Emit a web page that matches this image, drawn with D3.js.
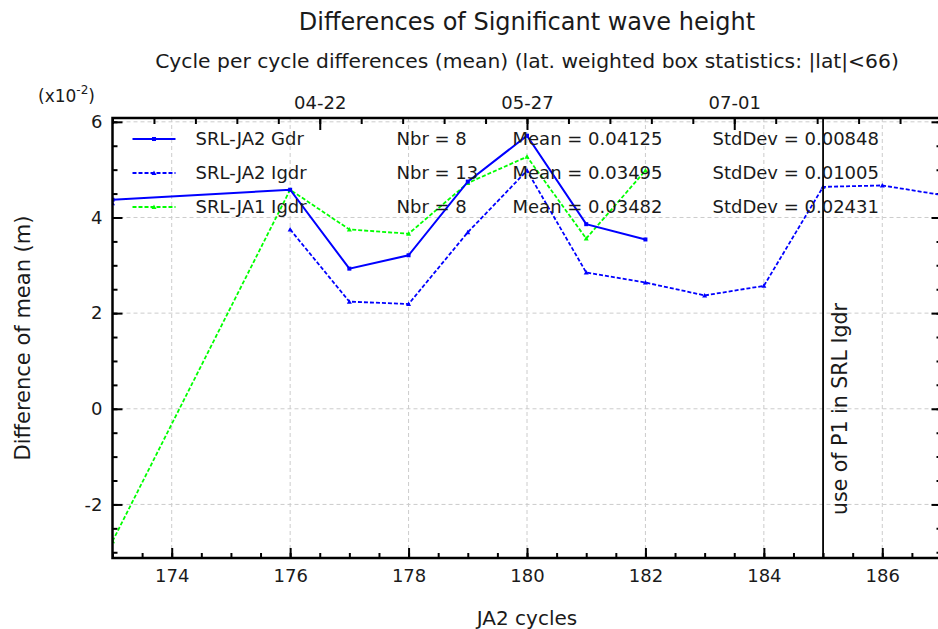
<!DOCTYPE html>
<html>
<head>
<meta charset="utf-8">
<script src="https://cdn.jsdelivr.net/npm/d3@7"></script>
<style>
  body { margin: 0; background: white; }
  svg { font-family: 'DejaVu Sans', sans-serif; }
</style>
</head>
<body>
<div id="chart"></div>
<script>
// cycles and values (x10^-2 m)
var gdr_cycles = [173, 176, 177, 178, 179, 180, 181, 182];
var gdr_values = [4.37, 4.58, 2.93, 3.21, 4.75, 5.71, 3.86, 3.54];

var igdr_cycles = [173, 174, 175, 176, 177, 178, 179, 180, 181, 182, 183, 184, 185, 186, 187];
var igdr_values = [4.30, null, null, 3.75, 2.24, 2.19, 3.69, 4.98, 2.85, 2.64, 2.37, 2.57, 4.64, 4.67, 4.47];

var ja1_cycles = [173, 176, 177, 178, 179, 180, 181, 182];
var ja1_values = [-2.77, 4.58, 3.75, 3.66, 4.72, 5.27, 3.56, 4.98];

var series_names = ['SRL-JA2 Gdr', 'SRL-JA2 Igdr', 'SRL-JA1 Igdr'];
var series_nbr = ['8', '13', '8'];
var series_mean = ['0.04125', '0.03495', '0.03482'];
var series_std = ['0.00848', '0.01005', '0.02431'];

var x_ticks = [174, 176, 178, 180, 182, 184, 186];
var y_ticks = [-2, 0, 2, 4, 6];
var top_tick_cycles = [176.5, 180, 183.5];
var top_tick_labels = ['04-22', '05-27', '07-01'];
var event_cycle = 185;
var event_label = 'use of P1 in SRL Igdr';

var width = 938, height = 629;
var margin = {top: 118, right: -3.5, bottom: 71, left: 112.5};
var plot_w = width - margin.left - margin.right;
var plot_h = height - margin.top - margin.bottom;

var svg = d3.select('#chart').append('svg')
    .attr('width', width)
    .attr('height', height);

var x = d3.scaleLinear().domain([173, 187]).range([0, plot_w]);
var y = d3.scaleLinear().domain([-3.12, 6.08]).range([plot_h, 0]);

var g = svg.append('g')
    .attr('transform', 'translate(' + margin.left + ',' + margin.top + ')');

svg.append('defs').append('clipPath').attr('id', 'clip')
    .append('rect').attr('width', plot_w).attr('height', plot_h);

// grid
g.selectAll('.vgrid').data(x_ticks).enter().append('line')
    .attr('x1', function(d){ return x(d); }).attr('x2', function(d){ return x(d); })
    .attr('y1', 0).attr('y2', plot_h)
    .attr('stroke', '#cccccc').attr('stroke-width', 1).attr('stroke-dasharray', '4,3');
g.selectAll('.hgrid').data(y_ticks).enter().append('line')
    .attr('y1', function(d){ return y(d); }).attr('y2', function(d){ return y(d); })
    .attr('x1', 0).attr('x2', plot_w)
    .attr('stroke', '#cccccc').attr('stroke-width', 1).attr('stroke-dasharray', '4,3');

// minor tick values
var x_minor = d3.range(173, 187.01, 0.5);
var y_minor = d3.range(-3, 6.01, 0.5);
var top_minor = [];
for (var t = 180; t >= 173; t -= 0.7) top_minor.push(t);
for (var t2 = 180.7; t2 <= 187; t2 += 0.7) top_minor.push(t2);

function style_axis(sel){
  sel.attr('font-family', null);
  sel.select('.domain').remove();
  sel.selectAll('.tick line').attr('stroke', 'black').attr('stroke-width', 2);
  sel.selectAll('.tick text').attr('fill', '#1a1a1a').style('font-size', '18px');
}
function plain(d){ return String(d); }

g.append('g').attr('transform', 'translate(0,' + plot_h + ')')
    .call(d3.axisBottom(x).tickValues(x_minor).tickSize(-5).tickFormat(''))
    .call(style_axis);
g.append('g').attr('transform', 'translate(0,' + plot_h + ')')
    .call(d3.axisBottom(x).tickValues(x_ticks).tickSize(-10).tickPadding(11).tickFormat(plain))
    .call(style_axis);
g.append('g')
    .call(d3.axisLeft(y).tickValues(y_minor).tickSize(-5).tickFormat(''))
    .call(style_axis);
g.append('g')
    .call(d3.axisLeft(y).tickValues(y_ticks).tickSize(-10).tickPadding(10).tickFormat(plain))
    .call(style_axis);
g.append('g').attr('transform', 'translate(' + plot_w + ',0)')
    .call(d3.axisRight(y).tickValues(y_minor).tickSize(-5).tickFormat(''))
    .call(style_axis);
g.append('g').attr('transform', 'translate(' + plot_w + ',0)')
    .call(d3.axisRight(y).tickValues(y_ticks).tickSize(-10).tickFormat(''))
    .call(style_axis);
g.append('g')
    .call(d3.axisTop(x).tickValues(top_minor).tickSize(-6).tickFormat(''))
    .call(style_axis);
g.append('g')
    .call(d3.axisTop(x).tickValues(top_tick_cycles).tickSize(-12).tickPadding(9)
      .tickFormat(function(d, i){ return top_tick_labels[i]; }))
    .call(style_axis);

// series
var plot = g.append('g').attr('clip-path', 'url(#clip)');
function to_points(cs, vs){
  return cs.map(function(c, i){ return {c: c, v: vs[i]}; });
}
var series = [
  {pts: to_points(gdr_cycles, gdr_values), color: '#0000ff', dash: null, marker: 'square'},
  {pts: to_points(igdr_cycles, igdr_values), color: '#0000ff', dash: '4,2', marker: 'tri'},
  {pts: to_points(ja1_cycles, ja1_values), color: '#00ff00', dash: '4,2', marker: 'tri'}
];
var line = d3.line()
    .defined(function(d){ return d.v !== null; })
    .x(function(d){ return x(d.c); })
    .y(function(d){ return y(d.v); });

function draw_marker(sel, kind, color){
  if (kind === 'square') {
    sel.append('rect').attr('x', -2).attr('y', -2).attr('width', 4).attr('height', 4).attr('fill', color);
  } else {
    sel.append('path').attr('d', 'M0,-2.5L2.5,2L-2.5,2Z').attr('fill', color);
  }
}

// draw in reverse so Gdr is on top
series.slice().reverse().forEach(function(s){
  plot.append('path')
      .datum(s.pts)
      .attr('d', line)
      .attr('fill', 'none')
      .attr('stroke', s.color)
      .attr('stroke-width', s.dash ? 1.8 : 2)
      .attr('stroke-dasharray', s.dash);
  plot.selectAll(null).data(s.pts.filter(function(d){ return d.v !== null; }))
      .enter().append('g')
      .attr('transform', function(d){ return 'translate(' + x(d.c) + ',' + y(d.v) + ')'; })
      .each(function(){ draw_marker(d3.select(this), s.marker, s.color); });
});

// event line
g.append('line')
    .attr('x1', x(event_cycle)).attr('x2', x(event_cycle))
    .attr('y1', 0).attr('y2', plot_h)
    .attr('stroke', 'black').attr('stroke-width', 1.8);
g.append('text')
    .attr('transform', 'translate(' + (x(event_cycle) + 24) + ',' + (plot_h - 43) + ') rotate(-90)')
    .attr('fill', '#1a1a1a')
    .style('font-size', '20.5px')
    .text(event_label);

// legend
var legend = g.append('g');
series.forEach(function(s, i){
  var ly = 21 + 34 * i;
  legend.append('line')
      .attr('x1', 20).attr('x2', 63).attr('y1', ly).attr('y2', ly)
      .attr('stroke', s.color).attr('stroke-width', s.dash ? 1.8 : 2)
      .attr('stroke-dasharray', s.dash);
  var m = legend.append('g').attr('transform', 'translate(41.5,' + ly + ')');
  draw_marker(m, s.marker, s.color);
  var cols = [[83, series_names[i]], [284, 'Nbr = ' + series_nbr[i]],
              [400, 'Mean = ' + series_mean[i]], [600, 'StdDev = ' + series_std[i]]];
  cols.forEach(function(c){
    legend.append('text')
        .attr('x', c[0]).attr('y', ly + 6)
        .attr('fill', '#1a1a1a')
        .style('font-size', '18px')
        .text(c[1]);
  });
});

// titles and labels
svg.append('text')
    .attr('x', 527).attr('y', 30)
    .attr('text-anchor', 'middle')
    .attr('fill', '#1a1a1a')
    .style('font-size', '24px')
    .text('Differences of Significant wave height');
svg.append('text')
    .attr('x', 527).attr('y', 68)
    .attr('text-anchor', 'middle')
    .attr('fill', '#1a1a1a')
    .style('font-size', '20.3px')
    .text('Cycle per cycle differences (mean) (lat. weighted box statistics: |lat|<66)');
var sc = svg.append('text')
    .attr('x', 38).attr('y', 102)
    .attr('fill', '#1a1a1a')
    .style('font-size', '17px');
sc.append('tspan').text('(x10');
sc.append('tspan').attr('dy', -8).style('font-size', '12px').text('-2');
sc.append('tspan').attr('dy', 8).text(')');

svg.append('text')
    .attr('transform', 'translate(30,' + (margin.top + plot_h / 2) + ') rotate(-90)')
    .attr('text-anchor', 'middle')
    .attr('fill', '#1a1a1a')
    .style('font-size', '21px')
    .text('Difference of mean (m)');
svg.append('text')
    .attr('x', 527).attr('y', 625)
    .attr('text-anchor', 'middle')
    .attr('fill', '#1a1a1a')
    .style('font-size', '20px')
    .text('JA2 cycles');

// frame
g.append('rect')
    .attr('width', plot_w).attr('height', plot_h)
    .attr('fill', 'none').attr('stroke', 'black').attr('stroke-width', 2.5);
</script>
</body>
</html>
